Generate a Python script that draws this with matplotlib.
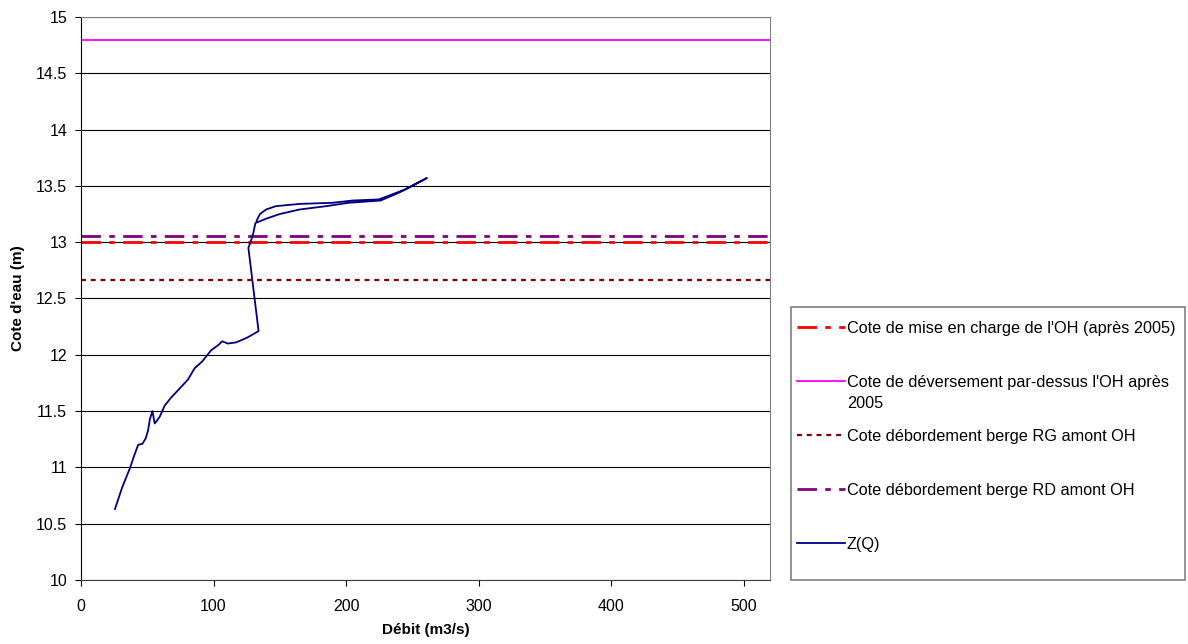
import numpy as np
import matplotlib.pyplot as plt
from matplotlib.patches import Rectangle
from matplotlib.transforms import IdentityTransform

plt.rcParams['font.family'] = ['Liberation Sans', 'DejaVu Sans']

# seuils (m)
Z_MISE_EN_CHARGE = 13.0
Z_DEVERSEMENT = 14.8
Z_BERGE_RG = 12.66
Z_BERGE_RD = 13.055

# courbe Z(Q)
debit = [25.6, 31, 36.8, 40, 43.1, 46.4, 48.9, 50.6, 52, 53.9, 55.6, 57, 59.4,
         63.2, 68, 74.4, 80.7, 85.7, 91.4, 98.2, 104, 106.5, 110.8, 117, 125,
         134, 126.3, 127.6, 130, 131.6, 140, 150, 164.7, 185, 202, 226, 240,
         261, 245, 224.8, 205, 189.7, 165, 147, 139.6, 135, 132.5]
cote = [10.63, 10.82, 10.99, 11.1, 11.2, 11.21, 11.26, 11.33, 11.43, 11.50,
        11.39, 11.41, 11.45, 11.55, 11.62, 11.70, 11.78, 11.88, 11.94, 12.04,
        12.09, 12.12, 12.10, 12.11, 12.15, 12.21, 12.95, 12.99, 13.08, 13.17,
        13.21, 13.25, 13.29, 13.32, 13.35, 13.37, 13.44, 13.57, 13.47, 13.38,
        13.37, 13.35, 13.34, 13.32, 13.29, 13.25, 13.19]

labels = [
    "Cote de mise en charge de l'OH (après 2005)",
    "Cote de déversement par-dessus l'OH après",
    "Cote débordement berge RG amont OH",
    "Cote débordement berge RD amont OH",
    "Z(Q)",
]
label_suite = "2005"  # fin du 2e libellé, renvoyée à la ligne

W, H = 1188, 644
fig = plt.figure(figsize=(W / 100, H / 100), dpi=100)
ax = fig.add_axes([0.0682, 0.0994, 0.5800, 0.8742])

XMAX = 520
ax.set_xlim(0, XMAX)
ax.set_ylim(10, 15)

ax.set_yticks(np.arange(10, 15.01, 0.5))
ax.set_yticklabels(['10', '10.5', '11', '11.5', '12', '12.5', '13', '13.5', '14', '14.5', '15'])
ax.set_xticks(range(0, 501, 100))
ax.grid(axis='y', color='black', lw=0.8)
ax.set_axisbelow(True)

xs = [0, XMAX]
l1, = ax.plot(xs, [Z_MISE_EN_CHARGE] * 2, color='#ff0000', lw=2,
              dashes=(7, 3, 2, 3))
l2, = ax.plot(xs, [Z_DEVERSEMENT] * 2, color='#ff00ff', lw=1.3)
l3, = ax.plot(xs, [Z_BERGE_RG] * 2, color='#800000', lw=1.6, dashes=(2.2, 2.2))
l4, = ax.plot(xs, [Z_BERGE_RD] * 2, color='#800080', lw=2,
              dashes=(7, 3, 2, 3))
l5, = ax.plot(debit, cote, color='#000080', lw=1.3)

for s in ['top', 'right', 'bottom']:
    ax.spines[s].set_color('#808080')
ax.spines['left'].set_color('black')
ax.spines['bottom'].set_color('#404040')
ax.tick_params(direction='out', length=4, labelsize=11.5, width=0.8)
ax.tick_params(axis='x', pad=10)
ax.tick_params(axis='y', pad=6)

ax.set_xlabel('Débit (m3/s)', fontsize=11, fontweight='bold', labelpad=6)
ax.set_ylabel("Cote d'eau (m)", fontsize=11, fontweight='bold', labelpad=8)

# cadre de la légende
fig.add_artist(Rectangle((791 / W, 1 - 580 / H), 394 / W, 273 / H,
                         transform=fig.transFigure, fill=False,
                         edgecolor='#808080', lw=1.2))

leg = fig.legend([l1, l2, l3, l4, l5], labels,
                 loc='upper left', bbox_to_anchor=(784.5 / W, 1 - 308.5 / H),
                 borderaxespad=0, fontsize=11.7,
                 handlelength=2.95, handletextpad=0.12, labelspacing=2.4,
                 frameon=False, borderpad=0.77)

fig.canvas.draw()
bb = leg.get_texts()[1].get_window_extent()
fig.text(bb.x0, bb.y0 - 21, label_suite, fontsize=11.7, va='bottom', ha='left',
         transform=IdentityTransform())

fig.savefig('out.png', dpi=100)
